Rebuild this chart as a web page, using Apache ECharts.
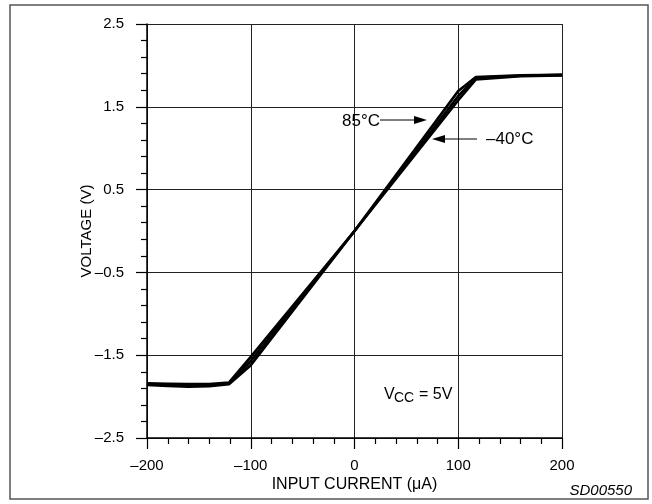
<!DOCTYPE html>
<html>
<head>
<meta charset="utf-8">
<script src="https://cdn.jsdelivr.net/npm/echarts@6/dist/echarts.min.js"></script>
<style>
html,body{margin:0;padding:0;background:#fff;}
#c{width:652px;height:504px;}
</style>
</head>
<body>
<div id="c"></div>
<script>
// ---- data ----
const xTicks = [-200, -100, 0, 100, 200];
const yTicks = [-2.5, -1.5, -0.5, 0.5, 1.5, 2.5];
const currentUA = [-200, -180, -160, -140, -121, -100, 0, 100, 117, 160, 200];
const volt85 = [-1.84, -1.845, -1.85, -1.85, -1.83, -1.52, 0.0, 1.69, 1.86, 1.88, 1.885];
const volt25 = [-1.85, -1.855, -1.865, -1.865, -1.84, -1.57, 0.0, 1.63, 1.85, 1.875, 1.885];
const voltM40 = [-1.86, -1.87, -1.88, -1.875, -1.85, -1.62, 0.0, 1.58, 1.83, 1.87, 1.88];
const seriesNames = ['85°C', '25°C', '–40°C'];

const FONT = '"Liberation Sans", Arial, sans-serif';
const dash = s => String(s).replace('-', '–');

const chart = echarts.init(document.getElementById('c'), null, {renderer: 'canvas'});
const pairs = arr => currentUA.map((x, i) => [x, arr[i]]);
const lineSeries = (name, arr) => ({
  name, type: 'line', data: pairs(arr), yAxisIndex: 0, showSymbol: false, symbol: 'none',
  lineStyle: {color: '#000', width: 2.7}, z: 5, animation: false
});

chart.setOption({
  animation: false,
  backgroundColor: '#fff',
  grid: {left: 147, right: 90, top: 24, bottom: 66},
  xAxis: {
    type: 'value', min: xTicks[0], max: xTicks[xTicks.length - 1], interval: 100,
    name: 'INPUT CURRENT (μA)', nameLocation: 'middle', nameGap: 39, nameMoveOverlap: false,
    nameTextStyle: {color: '#000', fontSize: 16, fontFamily: FONT},
    axisLine: {show: true, onZero: false, lineStyle: {color: '#000', width: 1.5}},
    axisTick: {show: true, inside: false, length: 11, lineStyle: {color: '#000', width: 1.2}},
    minorTick: {show: true, splitNumber: 5, length: 6, lineStyle: {color: '#000', width: 1.2}},
    splitLine: {show: true, lineStyle: {color: '#222', width: 1}},
    axisLabel: {color: '#000', fontSize: 15, fontFamily: FONT, margin: 20, formatter: v => dash(v)}
  },
  yAxis: [
    {type: 'value', min: yTicks[0], max: yTicks[yTicks.length - 1], show: false},
    {
      type: 'value', position: 'left', offset: 0,
      min: 0, max: yTicks[yTicks.length - 1] - yTicks[0], interval: 1,
      name: 'VOLTAGE (V)', nameLocation: 'middle', nameGap: 53, nameMoveOverlap: false,
      nameTextStyle: {color: '#000', fontSize: 15, fontFamily: FONT},
      axisLine: {show: true, onZero: false, lineStyle: {color: '#000', width: 1.5}},
      axisTick: {show: true, inside: false, length: 11, lineStyle: {color: '#000', width: 1.2}},
      minorTick: {show: true, splitNumber: 5, length: 6, lineStyle: {color: '#000', width: 1.2}},
      splitLine: {show: true, lineStyle: {color: '#222', width: 1}},
      axisLabel: {color: '#000', fontSize: 15, fontFamily: FONT, margin: 23, padding: [7, 0, 0, 0],
        formatter: v => dash((v + yTicks[0]).toFixed(1))}
    }
  ],
  series: [
    lineSeries(seriesNames[0], volt85),
    lineSeries(seriesNames[1], volt25),
    lineSeries(seriesNames[2], voltM40)
  ]
});

// annotations
const txt = (x, y, s, extra) => Object.assign({type: 'text', x, y, z: 20,
  style: Object.assign({text: s, fill: '#000', font: '15px ' + FONT, textVerticalAlign: 'middle'}, extra || {})});
const arrow = (x1, x2, y) => {
  const dir = Math.sign(x2 - x1), head = 13, hw = 4;
  return [
    {type: 'line', z: 20, shape: {x1, y1: y, x2: x2 - dir * head, y2: y}, style: {stroke: '#000', lineWidth: 1}},
    {type: 'polygon', z: 20, shape: {points: [[x2, y], [x2 - dir * head, y - hw], [x2 - dir * head, y + hw]]}, style: {fill: '#000'}}
  ];
};
chart.setOption({
  graphic: [
    {type: 'rect', z: 0, shape: {x: 10, y: 5, width: 638, height: 494}, style: {fill: 'none', stroke: '#555', lineWidth: 1.5}},
    txt(380, 121, seriesNames[0], {font: '17px ' + FONT, textAlign: 'right'}),
    ...arrow(380, 427, 120),
    txt(486, 139, seriesNames[2], {font: '17px ' + FONT}),
    ...arrow(477, 432, 139),
    txt(384, 395, 'V', {font: '16px ' + FONT}),
    txt(394, 398, 'CC', {font: '14px ' + FONT}),
    txt(419, 395, '= 5V', {font: '16px ' + FONT}),
    txt(632, 491, 'SD00550', {font: 'italic 15px ' + FONT, textAlign: 'right'})
  ]
});
</script>
</body>
</html>
